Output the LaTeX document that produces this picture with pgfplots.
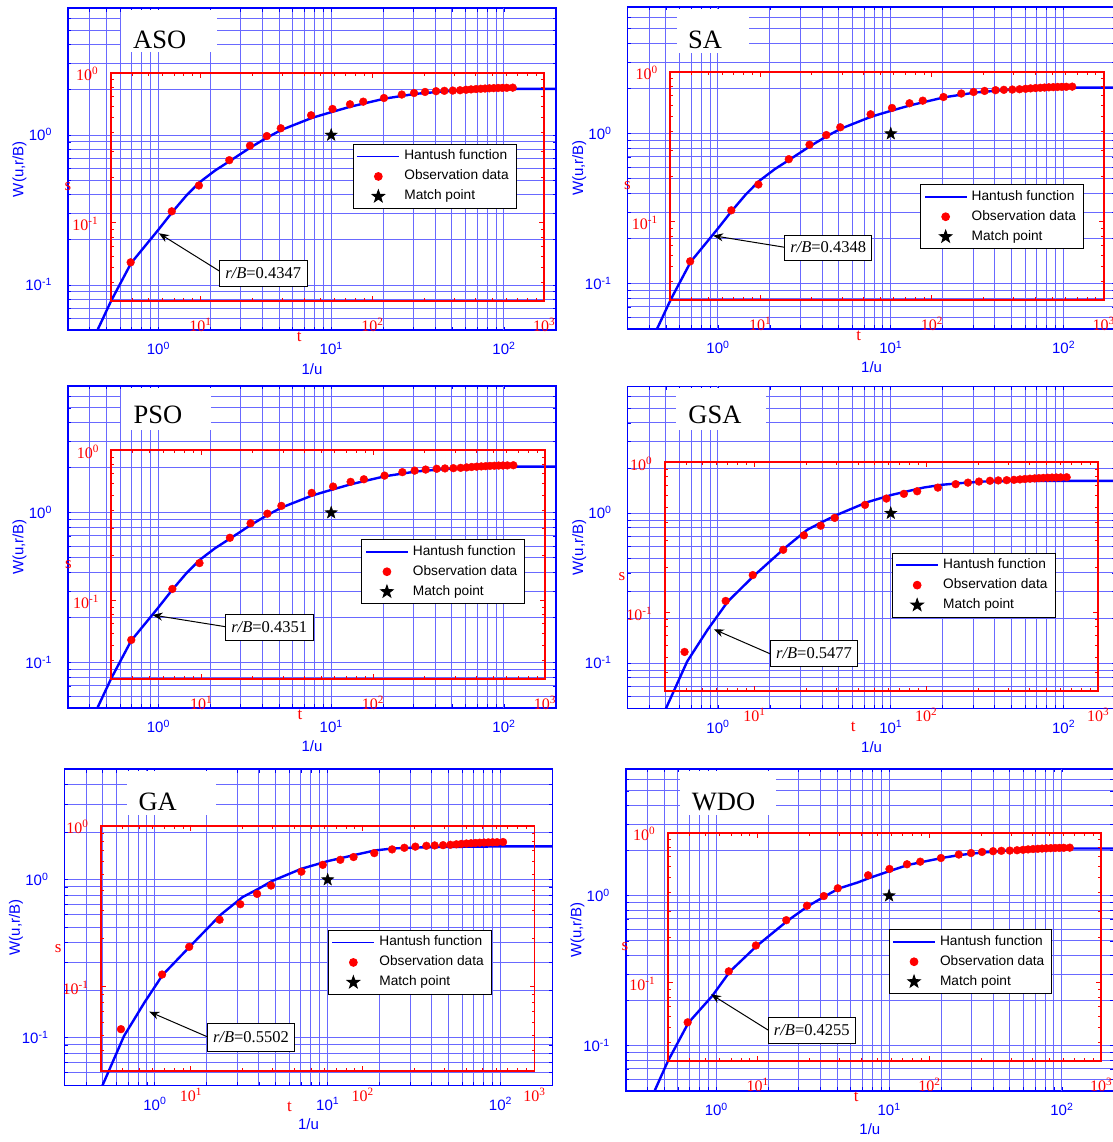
\documentclass[border=0pt]{standalone}
\usepackage{fontspec}
\setmainfont{Liberation Serif}
\newfontfamily\arial{Liberation Sans}
\usepackage{pgfplots}
\usepackage{pgfplotstable}
\pgfplotsset{compat=1.18}
\usetikzlibrary{arrows.meta}

\definecolor{gridblue}{RGB}{105,105,255}

% filled five-pointed star for the match point
\pgfdeclareplotmark{fstar}{%
  \pgfpathmoveto{\pgfpointpolar{90}{\pgfplotmarksize}}%
  \pgfpathlineto{\pgfpointpolar{126}{0.4\pgfplotmarksize}}%
  \pgfpathlineto{\pgfpointpolar{162}{\pgfplotmarksize}}%
  \pgfpathlineto{\pgfpointpolar{198}{0.4\pgfplotmarksize}}%
  \pgfpathlineto{\pgfpointpolar{234}{\pgfplotmarksize}}%
  \pgfpathlineto{\pgfpointpolar{270}{0.4\pgfplotmarksize}}%
  \pgfpathlineto{\pgfpointpolar{306}{\pgfplotmarksize}}%
  \pgfpathlineto{\pgfpointpolar{342}{0.4\pgfplotmarksize}}%
  \pgfpathlineto{\pgfpointpolar{18}{\pgfplotmarksize}}%
  \pgfpathlineto{\pgfpointpolar{54}{0.4\pgfplotmarksize}}%
  \pgfpathclose
  \pgfusepathqfillstroke
}

% drawdown observations: time t and drawdown s
\pgfplotstableread{
t      s
3.92   0.0544
6.80   0.119
9.78   0.177
14.7   0.261
19.4   0.326
24.3   0.378
29.3   0.426
44.0   0.520
58.6   0.573
74.1   0.616
88.5   0.641
116.8  0.678
148.3  0.715
174.8  0.732
202.6  0.744
234.8  0.753
262.4  0.757
293.7  0.760
323.8  0.764
351.0  0.769
375.2  0.774
401.2  0.778
427.3  0.781
452.6  0.784
479.5  0.787
508.6  0.789
538.9  0.791
570.8  0.792
605.4  0.793
656.1  0.795
}\obsdata

\pgfplotsset{
  blueax/.style={
    scale only axis, anchor=north west,
    width=488pt, xmin=0.3, xmax=200, ymin=0.05,
    axis line style={blue, line width=1.6pt},
    tick style={blue, line width=0.8pt},
    major tick length=3.5pt, tick align=inside,
    % every grid line is a tick of its own; the decades carry the labels
    xtick={0.3,0.4,0.5,0.6,0.7,0.8,0.9,1,2,3,4,5,6,7,8,9,10,20,30,40,50,60,70,80,90,100,200},
    xticklabels={},
    extra x ticks={1,10,100},
    extra x tick labels={10\textsuperscript{0},10\textsuperscript{1},10\textsuperscript{2}},
    yticklabels={},
    extra y ticks={0.1,1},
    extra y tick labels={10\textsuperscript{-1},10\textsuperscript{0}},
    xmajorgrids, ymajorgrids,
    every axis grid/.style={draw=gridblue, line width=1pt},
    every major grid/.style={draw=gridblue, line width=1pt},
    ticklabel style={font=\arial\fontsize{15}{15}\selectfont, text=blue},
    xticklabel style={anchor=base, yshift=-24.8pt},
    yticklabel style={anchor=base east, xshift=-12.6pt, yshift=-5.7pt},
    xlabel={1/u}, ylabel={W(u,r/B)},
    label style={font=\arial\fontsize{15}{15}\selectfont, text=blue},
    xlabel style={at={(axis description cs:0.5,0)}, anchor=base, yshift=-44pt},
    ylabel style={at={(axis description cs:-0.0992,0.5)}, anchor=center},
    legend cell align=left,
    legend style={anchor=north west, draw=black, line width=0.9pt, fill=white,
      font=\arial\fontsize{13.7}{15}\selectfont, inner xsep=4pt, inner ysep=2pt,
      row sep=0pt, column sep=1.5pt,
      nodes={inner sep=3.5pt, text height=10pt, text depth=3pt}},
  },
  redax/.style={
    scale only axis, anchor=north west,
    width=433.5pt, xmin=3, xmax=1000, ymin=0.03, ymax=1,
    xmajorgrids=false, xminorgrids=false, ymajorgrids=false, yminorgrids=false,
    axis line style={red, line width=1.8pt},
    tick style={red, line width=0.8pt},
    major tick length=5pt, minor tick length=3pt, tick align=inside,
    xtick={10,100,1000},
    xticklabels={10\textsuperscript{1},10\textsuperscript{2},10\textsuperscript{3}},
    minor xtick={3,4,5,6,7,8,9,20,30,40,50,60,70,80,90,200,300,400,500,600,700,800,900},
    ytick={0.1,1},
    yticklabels={10\textsuperscript{-1},10\textsuperscript{0}},
    minor ytick={0.03,0.04,0.05,0.06,0.07,0.08,0.09,0.2,0.3,0.4,0.5,0.6,0.7,0.8,0.9},
    ticklabel style={font=\fontsize{16}{16}\selectfont, text=red},
    xticklabel style={anchor=base, yshift=-30.7pt},
    yticklabel style={anchor=base east, xshift=-8.9pt, yshift=-8pt},
    xlabel={t}, ylabel={s},
    label style={font=\fontsize{17}{17}\selectfont, text=red},
    xlabel style={at={(axis description cs:0.435,0)}, anchor=base, yshift=-40.7pt},
    ylabel style={at={(axis description cs:-0.0987,0.5)}, anchor=center, rotate=-90},
  },
  leg line/.style={legend image code/.code={%
    \fill[blue, draw=none] (0pt,-0.9pt) rectangle (42pt,0.9pt);}},
  leg dot/.style={legend image code/.code={%
    \path[draw=none, fill=none] (0pt,0pt) (42pt,0pt);
    \draw[red, fill=red] plot[only marks, mark=*, mark size=3.9pt] coordinates {(21pt,0pt)};}},
  leg star/.style={legend image code/.code={%
    \path[draw=none, fill=none] (0pt,0pt) (42pt,0pt);
    \draw[black, fill=black] plot[only marks, mark=fstar, mark size=6.5pt] coordinates {(21pt,0pt)};}},
}

\tikzset{
  ttl/.style={anchor=base, font=\fontsize{26.5}{26.5}\selectfont},
  rbbox/.style={draw=black, line width=0.8pt, fill=white, inner sep=0pt,
    font=\fontsize{16.5}{16.5}\selectfont},
  rbarrow/.style={black, line width=1pt, -{Stealth[length=10pt, width=8pt]}},
}

\begin{document}
\begin{tikzpicture}
\path[use as bounding box] (0pt,0pt) rectangle (1112pt,1142pt);

% ---------------- ASO ----------------
\begin{loglogaxis}[blueax, at={(68pt,1133.7pt)}, ymax=7, height=321.9pt,
  ytick={0.05,0.06,0.07,0.08,0.09,0.1,0.2,0.3,0.4,0.5,0.6,0.7,0.8,0.9,1,2,3,4,5,6,7},
  legend style={at={(0.5838,0.5784)}}]
\addplot[blue, line width=2.4pt, forget plot] coordinates {(0.42,0.0436) (0.448,0.0511) (0.534,0.0788) (0.697,0.1406)
  (0.992,0.2309) (1.207,0.3076) (1.453,0.3953) (1.733,0.4845) (2.129,0.580) (2.601,0.673)
  (3.428,0.829) (4.29,0.967) (5.164,1.083) (7.745,1.302) (10.31,1.435) (13.02,1.549)
  (20.48,1.751) (30.85,1.883) (46.3,1.959) (71.1,2.001) (116.8,2.032) (200,2.032)};
\addplot[only marks, mark=fstar, mark size=6.5pt, black, forget plot] coordinates {(10,1)};
\addlegendimage{leg line}
\addlegendentry{Hantush function}
\addlegendimage{leg dot}
\addlegendentry{Observation data}
\addlegendimage{leg star}
\addlegendentry{Match point}
\end{loglogaxis}
\begin{loglogaxis}[redax, at={(110.7pt,1069.3pt)}, height=228.4pt]
\addplot[only marks, mark=*, mark size=3.9pt, red] table[x=t, y=s] {\obsdata};
\end{loglogaxis}
\fill[white] (121pt,1132.2pt) rectangle (217pt,1090pt);
\node[ttl] at (159.7pt,1093.7pt) {ASO};
\draw[rbarrow] (219.3pt,871pt) -- (158.9pt,908.7pt);
\node[rbbox, minimum width=87.8pt, minimum height=25.3pt] at (263.2pt,868.6pt) {\textit{r/B}=0.4347};

% ---------------- SA ----------------
\begin{loglogaxis}[blueax, at={(627.6pt,1135pt)}, ymax=7, height=321.9pt,
  ytick={0.05,0.06,0.07,0.08,0.09,0.1,0.2,0.3,0.4,0.5,0.6,0.7,0.8,0.9,1,2,3,4,5,6,7},
  legend style={at={(0.5996,0.4492)}}]
\addplot[blue, line width=2.4pt, forget plot] coordinates {(0.42,0.0436) (0.448,0.0511) (0.534,0.0788) (0.697,0.1406)
  (0.992,0.2309) (1.207,0.3076) (1.453,0.3953) (1.733,0.4845) (2.129,0.580) (2.601,0.673)
  (3.428,0.829) (4.29,0.967) (5.164,1.083) (7.745,1.302) (10.31,1.435) (13.02,1.549)
  (20.48,1.751) (30.85,1.883) (46.3,1.959) (71.1,2.001) (116.8,2.032) (200,2.032)};
\addplot[only marks, mark=fstar, mark size=6.5pt, black, forget plot] coordinates {(10,1)};
\addlegendimage{leg line}
\addlegendentry{Hantush function}
\addlegendimage{leg dot}
\addlegendentry{Observation data}
\addlegendimage{leg star}
\addlegendentry{Match point}
\end{loglogaxis}
\begin{loglogaxis}[redax, at={(670.2pt,1070.3pt)}, height=228.4pt]
\addplot[only marks, mark=*, mark size=3.9pt, red] table[x=t, y=s] {\obsdata};
\end{loglogaxis}
\fill[white] (676.6pt,1133pt) rectangle (749.3pt,1089pt);
\node[ttl] at (705pt,1093.7pt) {SA};
\draw[rbarrow] (784.7pt,894.7pt) -- (713.1pt,906.3pt);
\node[rbbox, minimum width=86.9pt, minimum height=25pt] at (828.2pt,894.5pt) {\textit{r/B}=0.4348};

% ---------------- PSO ----------------
\begin{loglogaxis}[blueax, at={(68pt,756pt)}, ymax=7, height=321.9pt,
  ytick={0.05,0.06,0.07,0.08,0.09,0.1,0.2,0.3,0.4,0.5,0.6,0.7,0.8,0.9,1,2,3,4,5,6,7},
  legend style={at={(0.6014,0.5238)}}]
\addplot[blue, line width=2.4pt, forget plot] coordinates {(0.42,0.0436) (0.448,0.0511) (0.534,0.0788) (0.697,0.1406)
  (0.992,0.2309) (1.207,0.3076) (1.453,0.3953) (1.733,0.4845) (2.129,0.580) (2.601,0.673)
  (3.428,0.829) (4.29,0.967) (5.164,1.083) (7.745,1.302) (10.31,1.435) (13.02,1.549)
  (20.48,1.751) (30.85,1.883) (46.3,1.959) (71.1,2.001) (116.8,2.032) (200,2.032)};
\addplot[only marks, mark=fstar, mark size=6.5pt, black, forget plot] coordinates {(10,1)};
\addlegendimage{leg line}
\addlegendentry{Hantush function}
\addlegendimage{leg dot}
\addlegendentry{Observation data}
\addlegendimage{leg star}
\addlegendentry{Match point}
\end{loglogaxis}
\begin{loglogaxis}[redax, at={(111.3pt,691.7pt)}, height=228.4pt]
\addplot[only marks, mark=*, mark size=3.9pt, red] table[x=t, y=s] {\obsdata};
\end{loglogaxis}
\fill[white] (121.3pt,754pt) rectangle (211pt,712pt);
\node[ttl] at (158pt,718pt) {PSO};
\draw[rbarrow] (225.4pt,515.3pt) -- (152.5pt,527pt);
\node[rbbox, minimum width=87.6pt, minimum height=25.7pt] at (269.2pt,514.8pt) {\textit{r/B}=0.4351};

% ---------------- GSA ----------------
\begin{loglogaxis}[blueax, at={(627.6pt,755.5pt)}, ymax=7, height=321.9pt,
  ytick={0.05,0.06,0.07,0.08,0.09,0.1,0.2,0.3,0.4,0.5,0.6,0.7,0.8,0.9,1,2,3,4,5,6,7},
  legend style={at={(0.5412,0.4837)}}]
\addplot[blue, line width=2.4pt, forget plot] coordinates {(0.45,0.036) (0.496,0.0489) (0.663,0.1026) (0.87,0.167)
  (1.14,0.2578) (1.612,0.3825) (2.427,0.584) (3.281,0.775) (4.05,0.880) (4.89,0.976)
  (7.29,1.184) (10.13,1.326) (15.47,1.483) (19.57,1.546) (24.75,1.585) (34.4,1.627)
  (55,1.644) (200,1.644)};
\addplot[only marks, mark=fstar, mark size=6.5pt, black, forget plot] coordinates {(10,1)};
\addlegendimage{leg line}
\addlegendentry{Hantush function}
\addlegendimage{leg dot}
\addlegendentry{Observation data}
\addlegendimage{leg star}
\addlegendentry{Match point}
\end{loglogaxis}
\begin{loglogaxis}[redax, at={(664.6pt,679.7pt)}, height=228.4pt]
\addplot[only marks, mark=*, mark size=3.9pt, red] table[x=t, y=s] {\obsdata};
\end{loglogaxis}
\fill[white] (676pt,754pt) rectangle (766pt,712pt);
\node[ttl] at (714.9pt,718pt) {GSA};
\draw[rbarrow] (770.6pt,488pt) -- (713.9pt,512.7pt);
\node[rbbox, minimum width=86.9pt, minimum height=26.7pt] at (814pt,488.7pt) {\textit{r/B}=0.5477};

% ---------------- GA ----------------
\begin{loglogaxis}[blueax, at={(64.5pt,372.7pt)}, ymax=5, height=316pt,
  ytick={0.05,0.06,0.07,0.08,0.09,0.1,0.2,0.3,0.4,0.5,0.6,0.7,0.8,0.9,1,2,3,4,5},
  legend style={at={(0.5398,0.4915)}}]
\addplot[blue, line width=2.4pt, forget plot] coordinates {(0.45,0.036) (0.496,0.0495) (0.663,0.1026) (0.87,0.167)
  (1.11,0.250) (1.595,0.378) (2.414,0.603) (3.216,0.776) (3.98,0.877) (4.75,0.980)
  (7.06,1.174) (10.0,1.311) (14.77,1.446) (18.75,1.532) (23.82,1.578) (38.4,1.608)
  (99.5,1.625) (200,1.625)};
\addplot[only marks, mark=fstar, mark size=6.5pt, black, forget plot] coordinates {(10,1)};
\addlegendimage{leg line}
\addlegendentry{Hantush function}
\addlegendimage{leg dot}
\addlegendentry{Observation data}
\addlegendimage{leg star}
\addlegendentry{Match point}
\end{loglogaxis}
\begin{loglogaxis}[redax, at={(101pt,316pt)}, height=244.7pt]
\addplot[only marks, mark=*, mark size=3.9pt, red] table[x=t, y=s] {\obsdata};
\end{loglogaxis}
\fill[white] (126.8pt,371pt) rectangle (216pt,327pt);
\node[ttl] at (157.7pt,331.3pt) {GA};
\draw[rbarrow] (207.1pt,105.3pt) -- (149.3pt,130.3pt);
\node[rbbox, minimum width=87.5pt, minimum height=28.4pt] at (250.9pt,104.5pt) {\textit{r/B}=0.5502};

% ---------------- WDO ----------------
\begin{loglogaxis}[blueax, at={(625.9pt,373pt)}, ymax=7, height=321.9pt,
  ytick={0.05,0.06,0.07,0.08,0.09,0.1,0.2,0.3,0.4,0.5,0.6,0.7,0.8,0.9,1,2,3,4,5,6,7},
  legend style={at={(0.5383,0.5020)}}]
\addplot[blue, line width=2.4pt, forget plot] coordinates {(0.41,0.0418) (0.440,0.0501) (0.524,0.0786) (0.690,0.1423)
  (0.947,0.2145) (1.20,0.3128) (1.712,0.462) (2.584,0.681) (3.401,0.854) (4.267,0.995)
  (5.13,1.119) (6.594,1.227) (7.677,1.312) (10.19,1.468) (12.8,1.602) (15.47,1.678)
  (20.53,1.792) (25.5,1.867) (30.73,1.914) (45.9,1.995) (70.3,2.035) (107.6,2.067) (200,2.067)};
\addplot[only marks, mark=fstar, mark size=6.5pt, black, forget plot] coordinates {(10,1)};
\addlegendimage{leg line}
\addlegendentry{Hantush function}
\addlegendimage{leg dot}
\addlegendentry{Observation data}
\addlegendimage{leg star}
\addlegendentry{Match point}
\end{loglogaxis}
\begin{loglogaxis}[redax, at={(667.7pt,309.3pt)}, height=228.4pt]
\addplot[only marks, mark=*, mark size=3.9pt, red] table[x=t, y=s] {\obsdata};
\end{loglogaxis}
\fill[white] (680pt,371pt) rectangle (776pt,327pt);
\node[ttl] at (723.6pt,331.3pt) {WDO};
\draw[rbarrow] (768pt,112pt) -- (711pt,147.7pt);
\node[rbbox, minimum width=87.6pt, minimum height=26pt] at (811.8pt,111.7pt) {\textit{r/B}=0.4255};

\end{tikzpicture}
\end{document}
